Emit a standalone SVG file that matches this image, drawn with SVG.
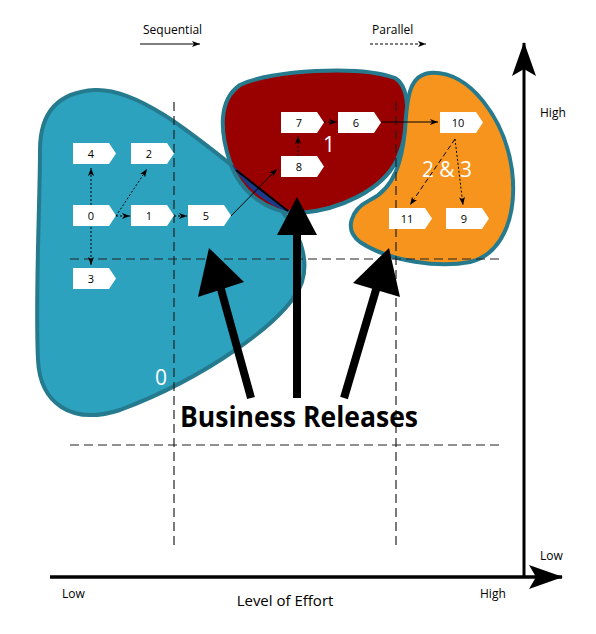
<svg xmlns="http://www.w3.org/2000/svg" width="596" height="634" viewBox="0 0 596 634">
<defs>
<marker id="ah" viewBox="0 0 8 6" refX="8" refY="3" markerWidth="8" markerHeight="6" markerUnits="userSpaceOnUse" orient="auto"><path d="M0,0 L8,3 L0,6 L2,3 Z" fill="#000"/></marker>
<marker id="axh" viewBox="0 0 34 24" refX="33" refY="12" markerWidth="34" markerHeight="24" markerUnits="userSpaceOnUse" orient="auto"><path d="M0,0 L34,12 L0,24 L7,12 Z" fill="#000"/></marker>
</defs>
<style>
.blob{stroke:#257a8e;stroke-width:4}
.grid{stroke:#222;stroke-width:1.2;stroke-dasharray:9 5;fill:none}
.node path{fill:#fff}
.node text{font-family:"Open Sans","DejaVu Sans",sans-serif;font-size:11px;fill:#000;text-anchor:middle}
.c{stroke:#000;stroke-width:1;fill:none;marker-end:url(#ah)}
.dot{stroke-dasharray:2 2}
.dash{stroke-dasharray:5 3}
.lbl{font-family:"Open Sans","DejaVu Sans",sans-serif;fill:#000}
.bl{font-family:"Open Sans","DejaVu Sans",sans-serif;fill:#fff;font-size:21px;text-anchor:middle}
.big{stroke:#000;stroke-width:8}
</style>
<rect width="596" height="634" fill="#fff"/>
<!-- blobs -->
<g id="blob0">
<path class="blob" fill="#2ca2bf" d="M95,90 C140,88 200,140 250,180 C290,210 312,250 302,282 C288,322 200,380 120,410 C70,426 40,402 38,360 C35,300 40,200 40,150 C40,110 60,92 95,90 Z"/>
<text class="bl" x="161" y="385">0</text>
</g>
<g id="blob1">
<path class="blob" fill="#990000" d="M240,85 C270,70 360,65 395,78 C412,88 410,130 397,160 C382,190 340,210 300,213 C268,214 240,192 230,162 C220,132 218,100 240,85 Z"/>
<path d="M231,164 C245,186 265,205 292,213 C272,198 252,182 231,164 Z" fill="#1b3a8a"/>
<path d="M236,170 L288,211" stroke="#000" stroke-width="2"/>
<text class="bl" x="329" y="152">1</text>
</g>
<g id="blob23">
<path class="blob" fill="#f7941d" d="M430,73 C470,70 505,120 512,170 C518,220 500,255 470,262 C440,268 390,262 360,242 C344,230 350,210 370,200 C395,188 402,160 405,130 C407,95 410,75 430,73 Z"/>
<text class="bl" x="447" y="177">2 &amp; 3</text>
</g>
<!-- grid -->
<g id="grid">
<line class="grid" x1="70" y1="259" x2="500" y2="259"/>
<line class="grid" x1="70" y1="445" x2="500" y2="445"/>
<line class="grid" x1="174" y1="102" x2="174" y2="548"/>
<line class="grid" x1="396" y1="102" x2="396" y2="548"/>
</g>
<!-- nodes -->
<g id="n4" class="node"><path d="M73,143 h36 l7,10.5 l-7,10.5 h-36 Z"/><text x="91" y="158">4</text></g>
<g id="n2" class="node"><path d="M131,143 h36 l7,10.5 l-7,10.5 h-36 Z"/><text x="149" y="158">2</text></g>
<g id="n0" class="node"><path d="M73,205 h36 l7,10.5 l-7,10.5 h-36 Z"/><text x="91" y="220">0</text></g>
<g id="n1" class="node"><path d="M131,205 h36 l7,10.5 l-7,10.5 h-36 Z"/><text x="149" y="220">1</text></g>
<g id="n5" class="node"><path d="M188,205 h36 l7,10.5 l-7,10.5 h-36 Z"/><text x="206" y="220">5</text></g>
<g id="n3" class="node"><path d="M73,268 h36 l7,10.5 l-7,10.5 h-36 Z"/><text x="91" y="283">3</text></g>
<g id="n7" class="node"><path d="M281,112 h36 l7,10.5 l-7,10.5 h-36 Z"/><text x="299" y="127">7</text></g>
<g id="n8" class="node"><path d="M281,156 h36 l7,10.5 l-7,10.5 h-36 Z"/><text x="299" y="171">8</text></g>
<g id="n6" class="node"><path d="M338,112 h36 l7,10.5 l-7,10.5 h-36 Z"/><text x="356" y="127">6</text></g>
<g id="n10" class="node"><path d="M440,112 h36 l7,10.5 l-7,10.5 h-36 Z"/><text x="458" y="127">10</text></g>
<g id="n11" class="node"><path d="M389,208 h36 l7,10.5 l-7,10.5 h-36 Z"/><text x="407" y="223">11</text></g>
<g id="n9" class="node"><path d="M446,208 h36 l7,10.5 l-7,10.5 h-36 Z"/><text x="464" y="223">9</text></g>
<!-- connectors -->
<g id="connectors">
<line class="c dot" x1="91" y1="205" x2="91" y2="168"/>
<line class="c dot" x1="91" y1="227" x2="91" y2="265"/>
<line class="c dot" x1="116" y1="216" x2="147" y2="169"/>
<line class="c dot" x1="116" y1="216" x2="130" y2="216"/>
<line class="c dot" x1="174" y1="216" x2="187" y2="216"/>
<line class="c" x1="231" y1="216" x2="277" y2="169"/>
<line class="c dot" x1="298" y1="156" x2="298" y2="136"/>
<line class="c dot" x1="324" y1="122" x2="337" y2="122"/>
<line class="c" x1="381" y1="122" x2="438" y2="122"/>
<line class="c dash" x1="455" y1="139" x2="410" y2="205"/>
<line class="c dot" x1="455" y1="139" x2="463" y2="205"/>
<!-- legend arrows -->
<line class="c" x1="140" y1="44" x2="200" y2="44"/>
<line class="c" stroke-dasharray="3 2" x1="370" y1="44" x2="426" y2="44"/>
<!-- axes -->
<line x1="50" y1="577" x2="562" y2="577" stroke="#000" stroke-width="3.5" marker-end="url(#axh)"/>
<line x1="524" y1="577" x2="524" y2="43" stroke="#000" stroke-width="3" marker-end="url(#axh)"/>
<!-- big arrows -->
<line class="big" x1="251" y1="398" x2="219" y2="282"/>
<polygon points="209,248 198,297 244,282"/>
<line class="big" x1="297" y1="398" x2="297" y2="225"/>
<polygon points="297,197 277,235 317,235"/>
<line class="big" x1="344" y1="398" x2="378" y2="283"/>
<polygon points="389,248 353,283 400,297"/>
</g>
<!-- labels -->
<g id="labels">
<text class="lbl" x="143" y="34" font-size="12">Sequential</text>
<text class="lbl" x="372" y="34" font-size="12">Parallel</text>
<text class="lbl" x="540" y="117" font-size="12">High</text>
<text class="lbl" x="540" y="560" font-size="12">Low</text>
<text class="lbl" x="62" y="598" font-size="12">Low</text>
<text class="lbl" x="480" y="598" font-size="12">High</text>
<text class="lbl" x="285" y="606" font-size="15" text-anchor="middle">Level of Effort</text>
<text class="lbl" x="180" y="427" font-size="29" font-weight="bold" textLength="238" lengthAdjust="spacingAndGlyphs">Business Releases</text>
</g>
</svg>
